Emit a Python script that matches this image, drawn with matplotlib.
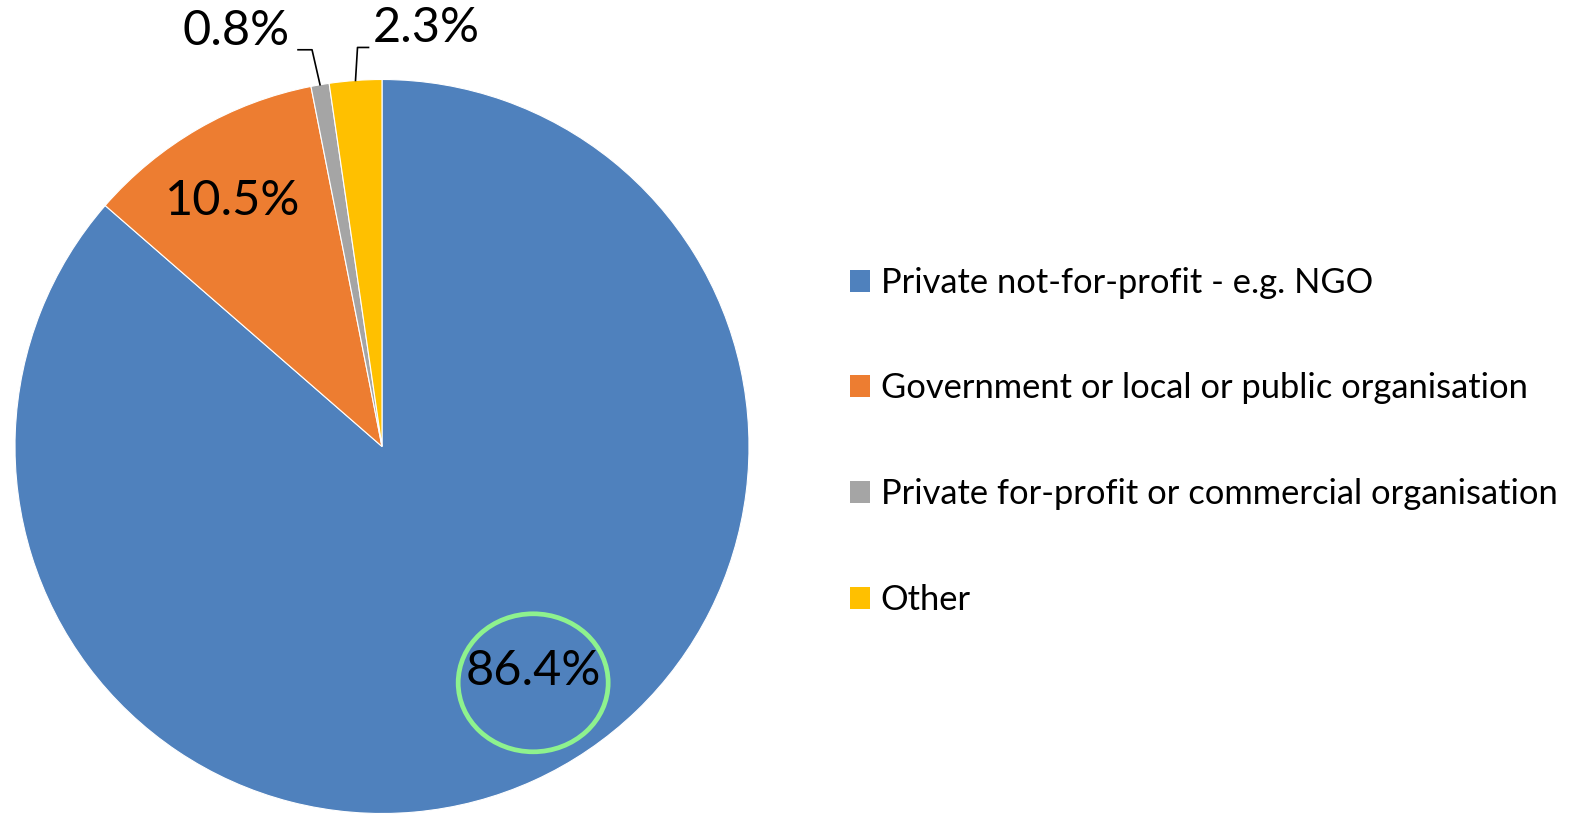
import matplotlib
matplotlib.use("Agg")
import matplotlib.pyplot as plt
from matplotlib.patches import Ellipse
import numpy as np

categories = ["Private not-for-profit - e.g. NGO",
              "Government or local or public organisation",
              "Private for-profit or commercial organisation",
              "Other"]
values = [86.4, 10.5, 0.8, 2.3]
colors = ["#4F81BD", "#ED7D31", "#A5A5A5", "#FFC000"]

plt.rcParams['font.family'] = ['Lato', 'DejaVu Sans']

W, H = 1577, 814
fig = plt.figure(figsize=(W / 100, H / 100), dpi=100)

# pie geometry in pixels
cx, cy, R = 382, 446.5, 367
ax = fig.add_axes([(cx - R) / W, (H - cy - R) / H, 2 * R / W, 2 * R / H])
wedges, _ = ax.pie(values, colors=colors, startangle=90, counterclock=False,
                   radius=1.0, wedgeprops=dict(edgecolor="white", linewidth=0.8))
ax.set_xlim(-1, 1)
ax.set_ylim(-1, 1)
ax.set_aspect('equal')
ax.axis('off')

def px(dx, dy):
    # pixel offsets -> data units
    return dx / R, -dy / R

label_fs = 35
total = sum(values)
fmt = lambda v: f"{v / total * 100:.1f}%"

ang = lambda w: np.deg2rad((w.theta1 + w.theta2) / 2)
# orange (inside)
a = ang(wedges[1]) + np.deg2rad(1.0)
ax.text(0.79 * np.cos(a), 0.79 * np.sin(a) - 3 / R, fmt(values[1]),
        ha='center', va='center', fontsize=label_fs, color='black')
# blue (best-fit position)
a = ang(wedges[0]) + np.deg2rad(9.5)
bx, by = 0.737 * np.cos(a), 0.737 * np.sin(a)
ax.text(bx, by, fmt(values[0]), ha='center', va='center', fontsize=label_fs, color='black')
ell = Ellipse((bx, by - 12 / R), 150 / R, 138 / R, fill=False, edgecolor="#8EF28E",
              linewidth=3.4)
ax.add_patch(ell)

# outside labels with leader lines
for i, (elb, end, ha) in [(2, ((-8, -35), (-22, -35), 'right')),
                          (3, ((2, -33), (13, -33), 'left'))]:
    a = ang(wedges[i])
    ex, ey = np.cos(a), np.sin(a)
    e1 = px(*elb)
    e2 = px(*end)
    xs = [ex, ex + e1[0], ex + e2[0]]
    ys = [ey, ey + e1[1], ey + e2[1]]
    ax.plot(xs, ys, color='black', linewidth=1.2, clip_on=False)
    tx = xs[-1] + (-8 / R if ha == 'right' else 4 / R)
    ty = ys[-1] + 19 / R
    ax.text(tx, ty, fmt(values[i]), ha=ha, va='center', fontsize=label_fs, color='black',
            clip_on=False)

leg = fig.legend(wedges, categories, loc='upper left',
                 bbox_to_anchor=(836 / W, 1 - 253 / H), frameon=False,
                 fontsize=24.8, handlelength=0.6, handleheight=0.6,
                 handletextpad=0.3, labelspacing=2.14, borderaxespad=0)
for h in leg.legend_handles:
    h.set_edgecolor('none')

fig.savefig("out.png", dpi=100)
